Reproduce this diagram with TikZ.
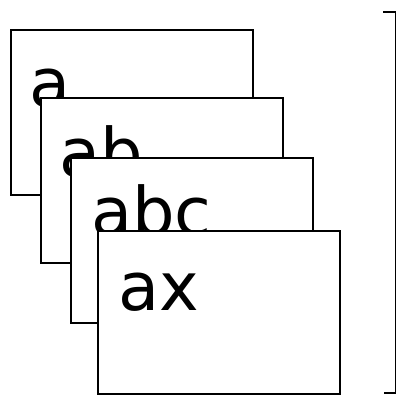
\documentclass[tikz,border=0pt]{standalone}
\usepackage{fontspec}
\setmainfont{DejaVu Sans}
\begin{document}
\begin{tikzpicture}[x=1pt, y=-1pt, every node/.style={inner sep=0pt},
  card/.style={draw, fill=white, line width=2pt, anchor=north west,
               minimum width=242pt, minimum height=165pt},
  word/.style={font=\fontsize{67}{67}\selectfont, anchor=base west}]
  \useasboundingbox (0,0) rectangle (397,396);
  % stacked cards, each one covering the previous
  \node[card] (c1) at (10,29) {};
  \node[word] (w1) at (29,107) {a};
  \node[card] (c2) at (40,97) {};
  \node[word] (w2) at (59,176) {ab};
  \node[card] (c3) at (70,157) {};
  \node[word] (w3) at (91,236) {abc};
  \node[card, minimum height=163pt] (c4) at (97,230) {};
  \node[word] (w4) at (118,310) {ax};
  % bracket on the right
  \coordinate (top) at (383,12);
  \coordinate (bot) at (384,393);
  \draw[line width=1.5pt] (top) -- (395.5,12) -- (395.5,393) -- (bot);
  \draw[line width=2.5pt] (top) -- (394.5,12);
\end{tikzpicture}
\end{document}
